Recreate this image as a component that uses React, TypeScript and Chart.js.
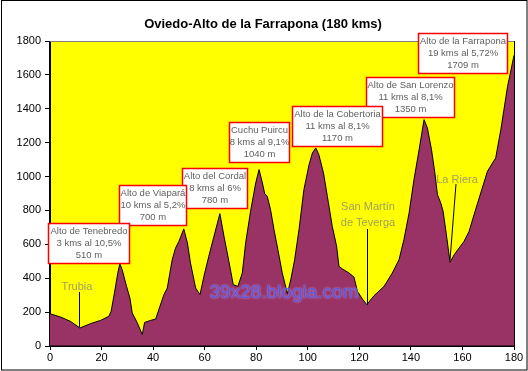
import React, { useEffect, useRef } from "react";
import { Chart, registerables } from "chart.js";

Chart.register(...registerables);

// ---- data ----
const kms = [
  0, 4.1, 8.0, 11.6, 15.7, 19.6, 22.8, 23.7, 25.0, 26.3, 27.1, 28.0, 29.7, 31.0, 31.9, 33.8, 35.8,
  36.7, 39.0, 41.0, 42.2, 44.2, 45.5, 47.4, 48.7, 50.0, 51.9, 53.3, 54.5, 56.5, 58.2, 59.7, 61.6,
  63.6, 65.9, 67.5, 69.4, 71.1, 72.9, 74.6, 75.9, 77.8, 79.8, 81.1, 82.4, 83.3, 84.3, 85.6, 86.9,
  88.4, 90.1, 92.1, 93.4, 94.9, 96.6, 98.5, 100.5, 101.8, 103.1, 104.3, 106.1, 107.6, 109.5, 111.2,
  112.1, 113.4, 116.0, 117.9, 119.3, 121.2, 122.9, 125.7, 129.6, 132.8, 135.4, 137.3, 139.3, 141.2,
  143.2, 145.1, 146.4, 148.0, 149.3, 150.3, 151.6, 152.5, 153.5, 155.2, 156.8, 160.6, 162.6, 164.5,
  167.1, 169.7, 172.9, 174.9, 177.5, 180,
];
const elevations = [
  190, 171, 145, 106, 132, 151, 175, 204, 313, 431, 486, 450, 352, 283, 195, 139, 67,
  139, 151, 159, 214, 303, 342, 509, 578, 617, 691, 608, 490, 342, 303, 411, 529,
  647, 781, 647, 499, 362, 352, 431, 608, 795, 962, 1041, 962, 899, 883, 801, 687,
  569, 431, 309, 391, 509, 687, 923, 1070, 1139, 1169, 1129, 1021, 883, 706, 588,
  470, 455, 431, 407, 322, 277, 244, 297, 352, 431, 509, 628, 785, 982,
  1159, 1336, 1287, 1159, 1021, 893, 844, 795, 687, 494, 539, 617, 677, 775,
  903, 1031, 1110, 1277, 1532, 1715,
];
const xTickValues = [0, 20, 40, 60, 80, 100, 120, 140, 160, 180];
const yTickValues = [0, 200, 400, 600, 800, 1000, 1200, 1400, 1600, 1800];

const chartTitle = "Oviedo-Alto de la Farrapona (180 kms)";
const passNames = [
  "Alto de Tenebredo",
  "Alto de Viapará",
  "Alto del Cordal",
  "Cuchu Puircu",
  "Alto de la Cobertoria",
  "Alto de San Lorenzo",
  "Alto de la Farrapona",
];
const passClimbs = [
  "3 kms al 10,5%",
  "10 kms al 5,2%",
  "8 kms al 6%",
  "8 kms al 9,1%",
  "11 kms al 8,1%",
  "11 kms al 8,1%",
  "19 kms al 5,72%",
];
const passHeights = ["510 m", "700 m", "780 m", "1040 m", "1170 m", "1350 m", "1709 m"];
const townNames = [["Trubia"], ["San Martín", "de Teverga"], ["La Riera"]];
const watermarkText = "39x28.blogia.com";

// ---- layout (pixels) ----
const W = 528;
const H = 371;
const boxRects = [
  [48, 223, 130, 264],
  [119, 185, 187, 226],
  [182, 168, 248, 209],
  [229, 122, 290, 163],
  [292, 106, 383, 147],
  [366, 77, 455, 118],
  [418, 33, 508, 74],
];
const townText = [
  { x: 77, y: [287] },
  { x: 368, y: [207, 223] },
  { x: 457, y: [180] },
];
const townLines = [
  [79.5, 292, 79.5, 327],
  [367.5, 229, 367.5, 305],
  [456, 184, 450, 260],
];

const FONT = "'Liberation Sans', Arial, sans-serif";

const decor = {
  id: "decor",
  beforeDraw(chart: any) {
    const { ctx, chartArea: a } = chart;
    ctx.save();
    ctx.fillStyle = "#ffffff";
    ctx.fillRect(0, 0, W, H);
    ctx.fillStyle = "#ffff00";
    ctx.fillRect(a.left, a.top, a.right - a.left, a.bottom - a.top);
    ctx.restore();
  },
  afterDraw(chart: any) {
    const { ctx, chartArea: a } = chart;
    ctx.save();
    // plot borders
    ctx.lineWidth = 1;
    ctx.strokeStyle = "#808080";
    ctx.beginPath();
    ctx.moveTo(a.left, Math.round(a.top) + 0.5);
    ctx.lineTo(a.right, Math.round(a.top) + 0.5);
    ctx.stroke();
    ctx.strokeStyle = "#000000";
    ctx.beginPath();
    ctx.moveTo(Math.round(a.left) - 0.5, a.top);
    ctx.lineTo(Math.round(a.left) - 0.5, a.bottom);
    ctx.lineTo(Math.round(a.right) + 0.5, a.bottom);
    ctx.lineTo(Math.round(a.right) + 0.5, a.top);
    ctx.stroke();
    // outer border
    ctx.strokeRect(1.5, 0.5, W - 2.5, H - 1.5);

    // title
    ctx.fillStyle = "#000000";
    ctx.font = `bold 13px ${FONT}`;
    ctx.textAlign = "center";
    ctx.textBaseline = "middle";
    ctx.fillText(chartTitle, 263, 24);

    // watermark
    ctx.font = `19px ${FONT}`;
    ctx.shadowColor = "rgba(190,190,255,0.9)";
    ctx.shadowBlur = 2;
    ctx.fillStyle = "#6152d8";
    ctx.fillText(watermarkText, 284, 293);
    ctx.shadowBlur = 0;
    ctx.shadowColor = "transparent";

    // town leader lines + labels
    ctx.strokeStyle = "#000000";
    ctx.lineWidth = 1;
    townLines.forEach(([x1, y1, x2, y2]) => {
      ctx.beginPath();
      ctx.moveTo(x1, y1);
      ctx.lineTo(x2, y2);
      ctx.stroke();
    });
    ctx.font = `11px ${FONT}`;
    ctx.fillStyle = "#a09e62";
    townNames.forEach((lines, i) => {
      lines.forEach((t, j) => ctx.fillText(t, townText[i].x, townText[i].y[j]));
    });

    // pass boxes (drawn last-to-first so earlier boxes sit on top)
    for (let i = passNames.length - 1; i >= 0; i--) {
      const [x1, y1, x2, y2] = boxRects[i];
      ctx.fillStyle = "#ffffff";
      ctx.fillRect(x1, y1, x2 - x1, y2 - y1);
      ctx.strokeStyle = "#ff0000";
      ctx.lineWidth = 1.5;
      ctx.strokeRect(x1 + 0.5, y1 + 0.5, x2 - x1 - 1, y2 - y1 - 1);
      ctx.fillStyle = "#606060";
      ctx.font = `9.5px ${FONT}`;
      const cx = (x1 + x2) / 2;
      const cy = (y1 + y2) / 2;
      ctx.fillText(passNames[i], cx, cy - 12);
      ctx.fillText(passClimbs[i], cx, cy);
      ctx.fillText(passHeights[i], cx, cy + 12);
    }
    ctx.restore();
  },
};

export default function App() {
  const ref = useRef<HTMLCanvasElement | null>(null);
  useEffect(() => {
    const canvas = ref.current;
    if (!canvas) return;
    const chart = new Chart(canvas, {
      type: "line",
      data: {
        datasets: [
          {
            data: kms.map((k, i) => ({ x: k, y: elevations[i] })),
            fill: "origin",
            backgroundColor: "#993366",
            borderColor: "#000000",
            borderWidth: 1,
            pointRadius: 0,
            tension: 0,
          },
        ],
      },
      options: {
        animation: false,
        responsive: false,
        events: [],
        layout: { padding: { top: 41, right: 14, left: 0, bottom: 0 } },
        plugins: { legend: { display: false }, title: { display: false }, tooltip: { enabled: false } },
        scales: {
          x: {
            type: "linear",
            min: 0,
            max: 180,
            afterBuildTicks: (s: any) => {
              s.ticks = xTickValues.map((v) => ({ value: v }));
            },
            afterFit: (s: any) => {
              s.height = 25;
            },
            grid: { drawOnChartArea: false, tickLength: 4, color: "#000000" },
            border: { color: "#000000" },
            ticks: {
              color: "#000000",
              font: { family: FONT, size: 11 },
              padding: 1,
              maxRotation: 0,
              callback: (v: any) => String(v),
            },
          },
          y: {
            type: "linear",
            min: 0,
            max: 1800,
            afterBuildTicks: (s: any) => {
              s.ticks = yTickValues.map((v) => ({ value: v }));
            },
            afterFit: (s: any) => {
              s.width = 50;
            },
            grid: { drawOnChartArea: false, tickLength: 5, color: "#000000" },
            border: { color: "#000000" },
            ticks: {
              color: "#000000",
              font: { family: FONT, size: 11 },
              padding: 4,
              callback: (v: any) => String(v),
            },
          },
        },
      },
      plugins: [decor],
    } as any);
    return () => chart.destroy();
  }, []);
  return (
    <div style={{ position: "absolute", left: 0, top: 0, width: W, height: H }}>
      <canvas ref={ref} width={W} height={H} style={{ display: "block" }} />
    </div>
  );
}
